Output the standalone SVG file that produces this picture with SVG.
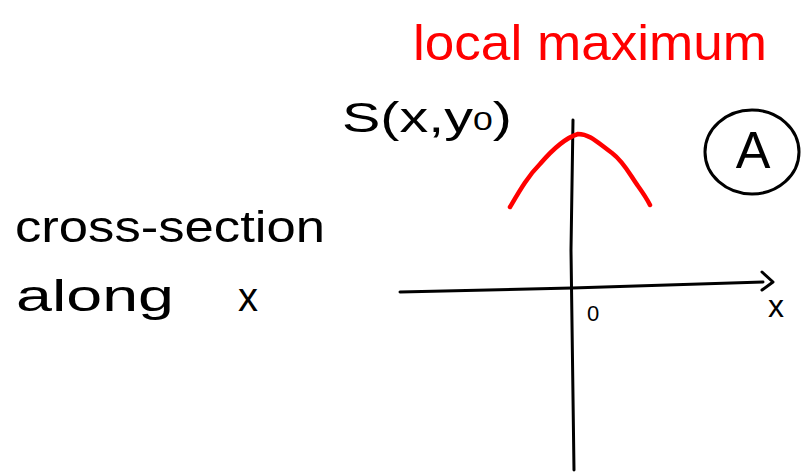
<svg xmlns="http://www.w3.org/2000/svg" width="804" height="472" viewBox="0 0 804 472">
<style>
.ink{fill:none;stroke:#000;stroke-width:3;stroke-linecap:round;stroke-linejoin:round}
.red{fill:none;stroke:#f00;stroke-width:4.5;stroke-linecap:round;stroke-linejoin:round}
.t{font-family:"Liberation Sans","DejaVu Sans",sans-serif;fill:#000}
.tr{font-family:"Liberation Sans","DejaVu Sans",sans-serif;fill:#f00}
</style>
<rect width="804" height="472" fill="#fff"/>
<g id="title">
<text class="tr" x="413" y="60" font-size="50" textLength="354" lengthAdjust="spacingAndGlyphs">local maximum</text>
</g>
<g id="axes">
<path class="ink" d="M573,120 L571,250 L574,470"/>
<path class="ink" d="M400,292 L572,288 L763,282"/>
<path class="ink" d="M762,272 L773,282 L762,290"/>
<text class="t" x="768" y="317" font-size="32">x</text>
<text class="t" x="587" y="321" font-size="22">0</text>
</g>
<g id="curve">
<path class="red" d="M510,207 C520,190 528,176 540,164 C552,150 565,138 578,134 C590,134 598,143 612,153 C624,162 630,175 638,186 C643,193 647,199 650,205"/>
</g>
<g id="ylabel">
<text class="t" x="342" y="132" font-size="42" textLength="170" lengthAdjust="spacingAndGlyphs">S(x,y<tspan font-size="26" dy="-2">0</tspan><tspan dy="2">)</tspan></text>
</g>
<g id="badge">
<ellipse class="ink" cx="752" cy="152" rx="47" ry="42" stroke-width="4"/>
<text class="t" x="753" y="168" font-size="52" text-anchor="middle">A</text>
</g>
<g id="caption">
<text class="t" x="15" y="242" font-size="44" textLength="310" lengthAdjust="spacingAndGlyphs">cross-section</text>
<text class="t" x="16" y="311" font-size="44" textLength="158" lengthAdjust="spacingAndGlyphs">along</text>
<text class="t" x="238" y="311" font-size="40">x</text>
</g>
</svg>
